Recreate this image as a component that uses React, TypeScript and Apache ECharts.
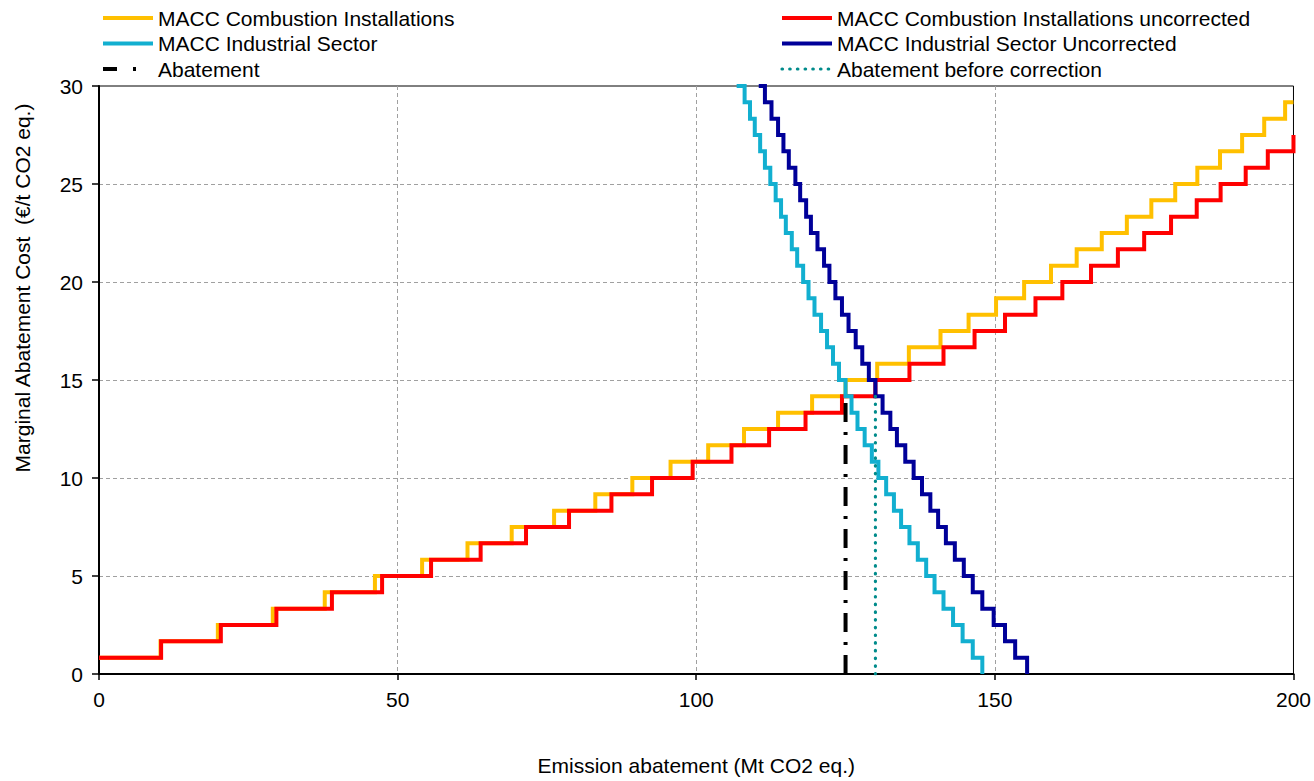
import React, { useEffect, useRef } from "react";
import * as echarts from "echarts";

const FONT = "'Liberation Sans', Arial, Helvetica, sans-serif";

const X_MIN = 0;
const X_MAX = 200;
const X_INTERVAL = 50;
const Y_MIN = 0;
const Y_MAX = 30;
const Y_INTERVAL = 5;

const X_TITLE = "Emission abatement (Mt CO2 eq.)";
const Y_TITLE = "Marginal Abatement Cost  (€/t CO2 eq.)";

const NAME_COMB = "MACC Combustion Installations";
const NAME_COMB_UNC = "MACC Combustion Installations uncorrected";
const NAME_IND = "MACC Industrial Sector";
const NAME_IND_UNC = "MACC Industrial Sector Uncorrected";
const NAME_ABAT = "Abatement";
const NAME_ABAT_BEFORE = "Abatement before correction";

// Cost levels of the rising combustion steps (€/t CO2 eq.)
const COMBUSTION_LEVELS = [
  0.83, 1.67, 2.5, 3.33, 4.17, 5, 5.83, 6.67, 7.5, 8.33, 9.17, 10, 10.83, 11.67,
  12.5, 13.33, 14.17, 15, 15.83, 16.67, 17.5, 18.33, 19.17, 20, 20.83, 21.67,
  22.5, 23.33, 24.17, 25, 25.83, 26.67, 27.5, 28.33, 29.17,
];
// Abatement (Mt) where each level begins
const COMBUSTION_STARTS = [
  0, 10.3, 19.9, 29.1, 37.8, 46.2, 54.1, 61.7, 69.1, 76.2, 83.1, 89.3, 95.7,
  102.0, 108.0, 113.7, 119.4, 125.0, 130.3, 135.6, 140.9, 145.6, 150.2, 154.9,
  159.4, 163.7, 167.9, 172.1, 176.2, 180.2, 183.9, 187.7, 191.4, 195.1, 198.6,
];
const COMBUSTION_UNC_STARTS = [
  0, 10.4, 20.4, 29.7, 39.0, 47.4, 55.6, 63.9, 71.5, 78.7, 85.8, 92.6, 99.4,
  105.9, 112.2, 118.3, 124.4, 130.0, 135.7, 141.4, 146.6, 151.7, 156.8, 161.3,
  166.1, 170.6, 175.0, 179.5, 183.8, 187.8, 192.0, 195.7, 200,
];

// Cost levels of the falling industrial steps (the first is above the frame)
const INDUSTRY_LEVELS = [
  30.83, 30, 29.17, 28.33, 27.5, 26.67, 25.83, 25, 24.17, 23.33, 22.5, 21.67,
  20.83, 20, 19.17, 18.33, 17.5, 16.67, 15.83, 15, 14.17, 13.33, 12.5, 11.67,
  10.83, 10, 9.17, 8.33, 7.5, 6.67, 5.83, 5, 4.17, 3.33, 2.5, 1.67, 0.83, 0,
];
const INDUSTRY_STARTS = [
  106.2, 107.1, 108.1, 109.0, 109.8, 110.7, 111.5, 112.4, 113.3, 114.2, 115.0,
  116.0, 116.9, 117.9, 118.8, 119.8, 120.9, 121.9, 122.9, 123.9, 125.0, 126.0,
  127.0, 128.2, 129.4, 130.5, 131.8, 133.1, 134.3, 135.7, 137.1, 138.5, 139.9,
  141.4, 143.0, 144.6, 146.3, 147.9,
];
const INDUSTRY_UNC_STARTS = [
  109.8, 110.8, 111.5, 112.6, 113.7, 114.6, 115.5, 116.6, 117.4, 118.4, 119.2,
  120.3, 121.4, 122.3, 123.3, 124.4, 125.5, 126.7, 127.8, 128.9, 130.0, 131.2,
  132.5, 133.6, 135.0, 136.4, 137.8, 139.2, 140.5, 141.8, 143.3, 144.8, 146.3,
  147.9, 149.8, 151.7, 153.4, 155.4,
];

// Vertical abatement markers
const ABATEMENT_X = 125.0;
const ABATEMENT_BEFORE_X = 130.0;
const ABATEMENT_TOP = 14.17;

const COLORS = {
  comb: "#FFC000",
  combUnc: "#FF0000",
  ind: "#12AFD0",
  indUnc: "#000099",
  abat: "#000000",
  abatBefore: "#008B8B",
};

const ABAT_DASH = [19, 10, 3, 10];
const ABAT_BEFORE_DASH = [0.5, 7.2];

function stepData(starts: number[], levels: number[], extendTo?: number) {
  const pts: number[][] = starts.map((x, i) => [x, levels[i]]);
  const last = pts[pts.length - 1];
  if (extendTo !== undefined && last[0] < extendTo) pts.push([extendTo, last[1]]);
  return pts;
}

function stepSeries(name: string, color: string, data: number[][], z: number) {
  return {
    type: "line",
    name,
    step: "end",
    data,
    symbol: "none",
    showSymbol: false,
    silent: true,
    z,
    lineStyle: { color, width: 4, cap: "butt", join: "miter" },
    itemStyle: { color },
  };
}

const textStyle = { fontFamily: FONT, fontSize: 21, color: "#000" };

const legendBase = {
  top: 7.5,
  orient: "vertical",
  itemWidth: 50,
  itemHeight: 10,
  itemGap: 4.5,
  padding: 0,
  selectedMode: false,
  itemStyle: { opacity: 0 },
  lineStyle: { width: 4 },
  textStyle: { ...textStyle, lineHeight: 21 },
};

const option = {
  animation: false,
  backgroundColor: "#ffffff",
  textStyle: { fontFamily: FONT },
  grid: {
    left: 99,
    top: 86,
    width: 1196,
    height: 595,
    show: true,
    borderColor: "#000",
    borderWidth: 1,
    backgroundColor: "transparent",
  },
  legend: [
    {
      ...legendBase,
      left: 101,
      data: [
        { name: NAME_COMB },
        { name: NAME_IND },
        { name: NAME_ABAT, lineStyle: { type: [14, 16, 3, 40], width: 4, color: COLORS.abat } },
      ],
    },
    {
      ...legendBase,
      left: 780,
      data: [
        { name: NAME_COMB_UNC },
        { name: NAME_IND_UNC },
        {
          name: NAME_ABAT_BEFORE,
          lineStyle: { type: ABAT_BEFORE_DASH, width: 3.2, cap: "round", color: COLORS.abatBefore },
        },
      ],
    },
  ],
  xAxis: {
    type: "value",
    min: X_MIN,
    max: X_MAX,
    interval: X_INTERVAL,
    name: X_TITLE,
    nameLocation: "middle",
    nameGap: 81,
    nameTextStyle: { ...textStyle },
    axisLine: { onZero: false, lineStyle: { color: "#000", width: 2 } },
    axisTick: { show: true, length: 6, lineStyle: { color: "#000", width: 1.5 } },
    axisLabel: { ...textStyle, margin: 15 },
    splitLine: {
      show: true,
      showMinLine: false,
      showMaxLine: false,
      lineStyle: { color: "#a0a0a0", type: [4, 3], width: 1 },
    },
  },
  yAxis: {
    type: "value",
    min: Y_MIN,
    max: Y_MAX,
    interval: Y_INTERVAL,
    axisLine: { show: true, onZero: false, lineStyle: { color: "#000", width: 2 } },
    axisTick: { show: true, length: 7, lineStyle: { color: "#000", width: 1.5 } },
    axisLabel: { ...textStyle, margin: 16 },
    splitLine: {
      show: true,
      showMinLine: false,
      showMaxLine: false,
      lineStyle: { color: "#a0a0a0", type: [4, 3], width: 1 },
    },
  },
  graphic: [
    {
      type: "text",
      x: 22,
      y: 288,
      rotation: Math.PI / 2,
      silent: true,
      style: {
        text: Y_TITLE,
        fontFamily: FONT,
        fontSize: 21,
        fill: "#000",
        align: "center",
        verticalAlign: "middle",
      },
    },
  ],
  series: [
    stepSeries(NAME_COMB, COLORS.comb, stepData(COMBUSTION_STARTS, COMBUSTION_LEVELS, X_MAX), 2),
    stepSeries(NAME_COMB_UNC, COLORS.combUnc, stepData(COMBUSTION_UNC_STARTS, COMBUSTION_LEVELS), 3),
    stepSeries(NAME_IND, COLORS.ind, stepData(INDUSTRY_STARTS, INDUSTRY_LEVELS), 4),
    stepSeries(NAME_IND_UNC, COLORS.indUnc, stepData(INDUSTRY_UNC_STARTS, INDUSTRY_LEVELS), 5),
    {
      type: "line",
      name: NAME_ABAT,
      data: [
        [ABATEMENT_X, 0],
        [ABATEMENT_X, ABATEMENT_TOP],
      ],
      symbol: "none",
      showSymbol: false,
      silent: true,
      z: 6,
      lineStyle: { color: COLORS.abat, width: 4, type: ABAT_DASH, cap: "butt" },
      itemStyle: { color: COLORS.abat },
    },
    {
      type: "line",
      name: NAME_ABAT_BEFORE,
      data: [
        [ABATEMENT_BEFORE_X, 0],
        [ABATEMENT_BEFORE_X, ABATEMENT_TOP],
      ],
      symbol: "none",
      showSymbol: false,
      silent: true,
      z: 7,
      lineStyle: { color: COLORS.abatBefore, width: 3.2, type: ABAT_BEFORE_DASH, cap: "round" },
      itemStyle: { color: COLORS.abatBefore },
    },
  ],
};

export default function App() {
  const ref = useRef<HTMLDivElement>(null);
  useEffect(() => {
    if (!ref.current) return;
    const chart = echarts.init(ref.current, undefined, { renderer: "svg" });
    chart.setOption(option as any);
    return () => chart.dispose();
  }, []);
  return (
    <div
      ref={ref}
      style={{ position: "fixed", left: 0, top: 0, width: 1314, height: 781, background: "#fff" }}
    />
  );
}
